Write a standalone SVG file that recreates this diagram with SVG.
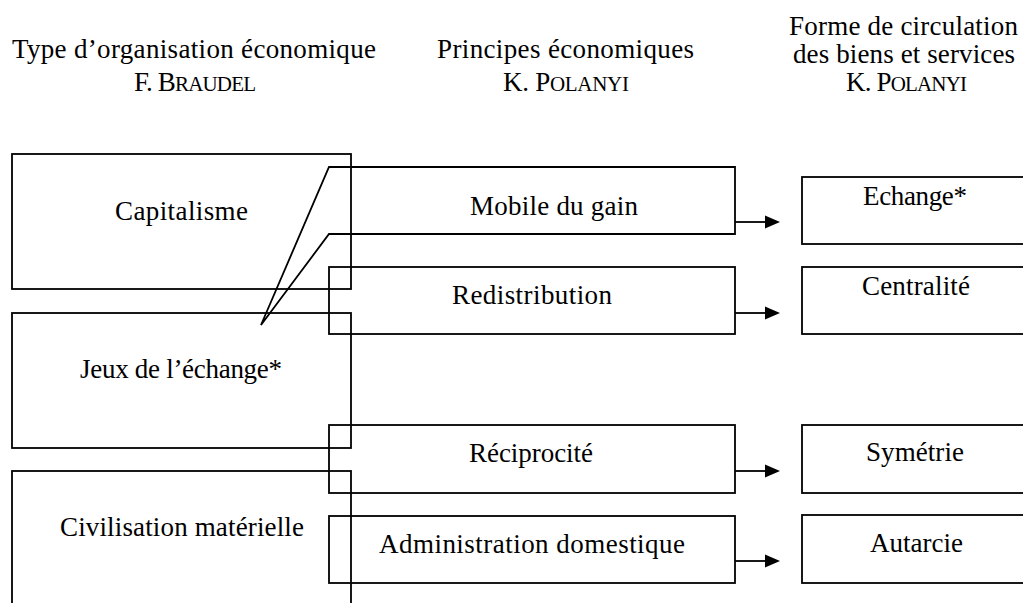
<svg xmlns="http://www.w3.org/2000/svg" width="1023" height="603" viewBox="0 0 1023 603">
<style>
.b{fill:none;stroke:#000;stroke-width:1.8}
.t{font-family:"Liberation Serif","Times New Roman",serif;font-size:27px;fill:#000}
.sc{font-size:21px}
.c{stroke:#000;stroke-width:1.8;fill:none}
.h{fill:#000}
</style>
<rect width="1023" height="603" fill="#fff"/>
<g id="headers">
<text class="t" x="12" y="58" textLength="364" lengthAdjust="spacing">Type d’organisation économique</text>
<text class="t" x="134" y="91" textLength="122" lengthAdjust="spacing">F. B<tspan class="sc">RAUDEL</tspan></text>
<text class="t" x="437" y="58" textLength="257" lengthAdjust="spacing">Principes économiques</text>
<text class="t" x="503" y="91" textLength="126" lengthAdjust="spacing">K. P<tspan class="sc">OLANYI</tspan></text>
<text class="t" x="789" y="35" textLength="229" lengthAdjust="spacing">Forme de circulation</text>
<text class="t" x="793" y="63" textLength="222" lengthAdjust="spacing">des biens et services</text>
<text class="t" x="846" y="91" textLength="121" lengthAdjust="spacing">K. P<tspan class="sc">OLANYI</tspan></text>
</g>
<g id="capitalisme">
<rect class="b" x="12" y="154" width="339" height="135"/>
<text class="t" x="115" y="220" textLength="133" lengthAdjust="spacing">Capitalisme</text>
</g>
<g id="jeux">
<rect class="b" x="12" y="313" width="339" height="135"/>
<text class="t" x="80" y="378" textLength="202" lengthAdjust="spacing">Jeux de l’échange*</text>
</g>
<g id="civilisation">
<rect class="b" x="12" y="471" width="339" height="160"/>
<text class="t" x="60" y="536" textLength="244" lengthAdjust="spacing">Civilisation matérielle</text>
</g>
<g id="mobile">
<path class="b" d="M261 325 L329 167 L735 167 L735 234 L329 234 Z"/>
<text class="t" x="470" y="215" textLength="168" lengthAdjust="spacing">Mobile du gain</text>
</g>
<g id="redistribution">
<rect class="b" x="329" y="267" width="406" height="67"/>
<text class="t" x="452" y="304" textLength="160" lengthAdjust="spacing">Redistribution</text>
</g>
<g id="reciprocite">
<rect class="b" x="329" y="425" width="406" height="68"/>
<text class="t" x="469" y="462" textLength="124" lengthAdjust="spacing">Réciprocité</text>
</g>
<g id="administration">
<rect class="b" x="329" y="516" width="406" height="67"/>
<text class="t" x="379" y="553" textLength="306" lengthAdjust="spacing">Administration domestique</text>
</g>
<g id="echange">
<rect class="b" x="802" y="177" width="240" height="67"/>
<text class="t" x="863" y="205" textLength="104" lengthAdjust="spacing">Echange*</text>
</g>
<g id="centralite">
<rect class="b" x="802" y="267" width="240" height="67"/>
<text class="t" x="862" y="295" textLength="108" lengthAdjust="spacing">Centralité</text>
</g>
<g id="symetrie">
<rect class="b" x="802" y="425" width="240" height="68"/>
<text class="t" x="866" y="461" textLength="98" lengthAdjust="spacing">Symétrie</text>
</g>
<g id="autarcie">
<rect class="b" x="802" y="515" width="240" height="68"/>
<text class="t" x="870" y="552" textLength="93" lengthAdjust="spacing">Autarcie</text>
</g>
<g id="connectors">
<line class="c" x1="735" y1="222" x2="766" y2="222"/>
<polygon class="h" points="765,215.5 780,222 765,228.5"/>
<line class="c" x1="735" y1="313" x2="766" y2="313"/>
<polygon class="h" points="765,306.5 780,313 765,319.5"/>
<line class="c" x1="735" y1="471" x2="766" y2="471"/>
<polygon class="h" points="765,464.5 780,471 765,477.5"/>
<line class="c" x1="735" y1="561" x2="766" y2="561"/>
<polygon class="h" points="765,554.5 780,561 765,567.5"/>
</g>
</svg>
